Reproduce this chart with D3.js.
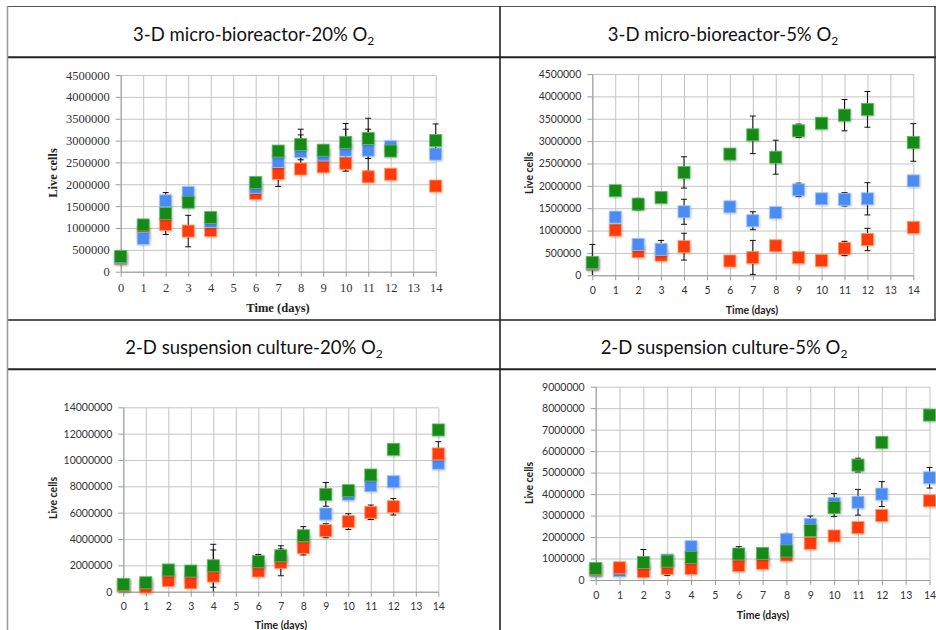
<!DOCTYPE html>
<html>
<head>
<meta charset="utf-8">
<script src="https://cdn.jsdelivr.net/npm/d3@7"></script>
<style>
  html, body { margin: 0; padding: 0; background: #fff; }
  svg { display: block; }
</style>
</head>
<body>
<svg id="chart" width="936" height="630"></svg>
<script>
// ---------------- DATA ----------------
const days = [0, 1, 2, 3, 4, 6, 7, 8, 9, 10, 11, 12, 14];
const xTicks = [0, 1, 2, 3, 4, 5, 6, 7, 8, 9, 10, 11, 12, 13, 14];
const yTicks3D = [0, 500000, 1000000, 1500000, 2000000, 2500000, 3000000, 3500000, 4000000, 4500000];
const yTicks2D20 = [0, 2000000, 4000000, 6000000, 8000000, 10000000, 12000000, 14000000];
const yTicks2D5 = [0, 1000000, 2000000, 3000000, 4000000, 5000000, 6000000, 7000000, 8000000, 9000000];

const titles = ["3-D micro-bioreactor-20% O", "3-D micro-bioreactor-5% O", "2-D suspension culture-20% O", "2-D suspension culture-5% O"];
const titleSub = "2";
const xAxisTitle = "Time (days)";
const yAxisTitle = "Live cells";

// 3-D micro-bioreactor 20% O2
const p1Green = [350000, 1070000, 1330000, 1590000, 1240000, 2040000, 2760000, 2910000, 2780000, 2960000, 3050000, 2760000, 3000000];
const p1Blue  = [320000, 760000, 1620000, 1810000, 1150000, 1930000, 2520000, 2750000, 2670000, 2780000, 2780000, 2860000, 2690000];
const p1Red   = [300000, 900000, 1080000, 930000, 940000, 1790000, 2250000, 2350000, 2400000, 2480000, 2170000, 2230000, 1960000];
const p1GreenErr = [0, 0, 480000, 0, 0, 0, 0, 350000, 0, 430000, 460000, 0, 380000];
const p1BlueErr  = [0, 0, 0, 0, 0, 0, 0, 380000, 0, 480000, 480000, 0, 0];
const p1RedErr   = [0, 0, 0, 360000, 0, 0, 300000, 0, 0, 0, 0, 0, 0];

// 3-D micro-bioreactor 5% O2
const p2Green = [290000, 1890000, 1590000, 1740000, 2300000, 2710000, 3140000, 2640000, 3230000, 3400000, 3580000, 3710000, 2970000];
const p2Blue  = [270000, 1300000, 690000, 580000, 1420000, 1530000, 1220000, 1400000, 1910000, 1710000, 1700000, 1710000, 2110000];
const p2Red   = [250000, 1010000, 530000, 450000, 640000, 320000, 400000, 660000, 400000, 330000, 600000, 800000, 1070000];
const p2GreenErr = [400000, 0, 130000, 0, 350000, 0, 420000, 380000, 150000, 0, 350000, 400000, 420000];
const p2BlueErr  = [0, 120000, 0, 200000, 280000, 0, 200000, 0, 150000, 0, 150000, 360000, 0];
const p2RedErr   = [0, 0, 0, 0, 300000, 0, 380000, 0, 0, 0, 160000, 250000, 0];

// 2-D suspension culture 20% O2
const p3Green = [560000, 680000, 1650000, 1570000, 1970000, 2280000, 2730000, 4250000, 7390000, 7670000, 8860000, 10810000, 12280000];
const p3Blue  = [500000, 500000, 1200000, 1050000, 1570000, 1900000, 2450000, 3800000, 5900000, 7400000, 8050000, 8350000, 9750000];
const p3Red   = [450000, 350000, 840000, 680000, 1190000, 1570000, 2230000, 3340000, 4630000, 5320000, 6030000, 6450000, 10460000];
const p3GreenErr = [0, 0, 0, 0, 1630000, 550000, 760000, 690000, 900000, 0, 0, 0, 0];
const p3BlueErr  = [0, 0, 0, 0, 1600000, 0, 0, 0, 0, 0, 0, 0, 0];
const p3RedErr   = [0, 0, 0, 0, 0, 0, 1020000, 550000, 530000, 600000, 550000, 630000, 930000];

// 2-D suspension culture 5% O2
const p4Green = [540000, null, 820000, 880000, 1050000, 1210000, 1240000, 1350000, 2300000, 3370000, 5350000, 6410000, 7680000];
const p4Blue  = [450000, 430000, 600000, 930000, 1550000, 1000000, 1000000, 1890000, 2590000, 3570000, 3620000, 4000000, 4760000];
const p4Red   = [500000, 570000, 390000, 540000, 540000, 670000, 780000, 1160000, 1710000, 2050000, 2440000, 3000000, 3690000];
const p4GreenErr = [0, 0, 600000, 0, 0, 340000, 0, 0, 0, 420000, 320000, 250000, 0];
const p4BlueErr  = [0, 0, 0, 0, 0, 0, 0, 280000, 390000, 460000, 600000, 580000, 480000];
const p4RedErr   = [0, 0, 0, 320000, 0, 0, 0, 0, 0, 0, 0, 0, 0];

// ---------------- STYLE / LAYOUT ----------------
const colors = {
  green: { fill: "#148a14", stroke: "#63b863" },
  blue:  { fill: "#4b8cf2", stroke: "#9cc2ff" },
  red:   { fill: "#ff3a10", stroke: "#ff9c5a" }
};

const serifFont = "'Liberation Serif', 'DejaVu Serif', serif";
const sansFont = "Lato, 'Open Sans', sans-serif";
const titleFont = "Lato, 'Open Sans', sans-serif";

const panels = [
  { title: titles[0], tx: 253.7, ty: 40.7, x0: 120.7, x1: 435.7, y0: 271.7, y1: 75, ymax: 4500000, yTicks: yTicks3D,
    font: serifFont, tickSize: 12.5, labSize: 12.5, xlab: [278, 312], ylab: [53, 173], xPad: 6,
    order: ["red", "blue", "green"],
    series: { green: [p1Green, p1GreenErr], blue: [p1Blue, p1BlueErr], red: [p1Red, p1RedErr] } },
  { title: titles[1], tx: 723, ty: 40.7, x0: 592.3, x1: 913.3, y0: 275.3, y1: 74, ymax: 4500000, yTicks: yTicks3D,
    font: sansFont, tickSize: 10.5, labSize: 10.5, xlab: [752, 314], ylab: [529, 173], xPad: 6,
    order: ["red", "blue", "green"],
    series: { green: [p2Green, p2GreenErr], blue: [p2Blue, p2BlueErr], red: [p2Red, p2RedErr] } },
  { title: titles[2], tx: 254, ty: 354.3, x0: 123.3, x1: 438.3, y0: 591.7, y1: 407.3, ymax: 14000000, yTicks: yTicks2D20,
    font: sansFont, tickSize: 10.5, labSize: 10.5, xlab: [281, 629], ylab: [53.3, 498], xPad: 6,
    order: ["blue", "red", "green"],
    series: { green: [p3Green, p3GreenErr], blue: [p3Blue, p3BlueErr], red: [p3Red, p3RedErr] } },
  { title: titles[3], tx: 724, ty: 354.3, x0: 595.7, x1: 929.5, y0: 580, y1: 386.7, ymax: 9000000, yTicks: yTicks2D5,
    font: sansFont, tickSize: 10.5, labSize: 10.5, xlab: [763, 619], ylab: [529.3, 483], xPad: 7,
    order: ["blue", "red", "green"],
    series: { green: [p4Green, p4GreenErr], blue: [p4Blue, p4BlueErr], red: [p4Red, p4RedErr] } }
];

const svg = d3.select("#chart");
const defs = svg.append("defs");
const f = defs.append("filter").attr("id", "shadow").attr("x", "-30%").attr("y", "-30%").attr("width", "160%").attr("height", "160%");
f.append("feDropShadow").attr("dx", 0.6).attr("dy", 0.8).attr("stdDeviation", 0.9).attr("flood-color", "#000").attr("flood-opacity", 0.25);

// ---------------- FRAME ----------------
const frame = svg.append("g").attr("class", "frame");
frame.append("line").attr("x1", 7).attr("x2", 936).attr("y1", 6.5).attr("y2", 6.5).attr("stroke", "#555").attr("stroke-width", 1.2);
frame.append("line").attr("x1", 7).attr("x2", 936).attr("y1", 57.3).attr("y2", 57.3).attr("stroke", "#222").attr("stroke-width", 2);
frame.append("line").attr("x1", 7).attr("x2", 936).attr("y1", 320).attr("y2", 320).attr("stroke", "#222").attr("stroke-width", 1.6);
frame.append("line").attr("x1", 7).attr("x2", 936).attr("y1", 369.3).attr("y2", 369.3).attr("stroke", "#222").attr("stroke-width", 2);
frame.append("line").attr("x1", 7.5).attr("x2", 7.5).attr("y1", 6).attr("y2", 630).attr("stroke", "#999").attr("stroke-width", 1.5);
frame.append("line").attr("x1", 500).attr("x2", 500).attr("y1", 6).attr("y2", 630).attr("stroke", "#222").attr("stroke-width", 1.6);
frame.append("line").attr("x1", 935).attr("x2", 935).attr("y1", 6).attr("y2", 320).attr("stroke", "#333").attr("stroke-width", 1.4);

// ---------------- PANELS ----------------
panels.forEach((p, i) => {
  const g = svg.append("g").attr("class", "panel panel-" + i);

  // title
  const t = g.append("text").attr("x", p.tx).attr("y", p.ty).attr("text-anchor", "middle")
    .attr("font-family", titleFont).attr("font-size", 18.5).attr("fill", "#111");
  t.append("tspan").text(p.title);
  t.append("tspan").attr("font-size", 12).attr("dy", 4).text(titleSub);

  const x = d3.scaleLinear().domain([0, 14]).range([p.x0, p.x1]);
  const y = d3.scaleLinear().domain([0, p.ymax]).range([p.y0, p.y1]);

  // grid
  const grid = g.append("g").attr("class", "grid");
  grid.append("g").attr("transform", `translate(0,${p.y0})`)
    .call(d3.axisBottom(x).tickValues(xTicks).tickSize(-(p.y0 - p.y1)).tickFormat(""))
    .call(s => s.select(".domain").remove())
    .call(s => s.selectAll("line").attr("stroke", "#c4c4c4").attr("stroke-width", 1));
  grid.append("g").attr("transform", `translate(${p.x0},0)`)
    .call(d3.axisLeft(y).tickValues(p.yTicks).tickSize(-(p.x1 - p.x0)).tickFormat(""))
    .call(s => s.select(".domain").remove())
    .call(s => s.selectAll("line").attr("stroke", "#c4c4c4").attr("stroke-width", 1));

  // axes
  const ax = g.append("g").attr("transform", `translate(0,${p.y0})`)
    .call(d3.axisBottom(x).tickValues(xTicks).tickSize(5).tickSizeOuter(0).tickPadding(p.xPad).tickFormat(d3.format("d")));
  const ay = g.append("g").attr("transform", `translate(${p.x0},0)`)
    .call(d3.axisLeft(y).tickValues(p.yTicks).tickSize(5).tickSizeOuter(0).tickPadding(6).tickFormat(d3.format("d")));
  [ax, ay].forEach(a => {
    a.select(".domain").attr("stroke", "#9a9a9a");
    a.selectAll(".tick line").attr("stroke", "#9a9a9a");
    a.selectAll("text").attr("font-family", p.font).attr("font-size", p.tickSize).attr("fill", "#333");
  });

  // axis titles
  g.append("text").attr("x", p.xlab[0]).attr("y", p.xlab[1]).attr("text-anchor", "middle")
    .attr("font-family", p.font).attr("font-weight", "bold").attr("font-size", p.labSize).attr("fill", "#222")
    .text(xAxisTitle);
  g.append("text").attr("transform", `translate(${p.ylab[0]},${p.ylab[1]}) rotate(-90)`).attr("text-anchor", "middle")
    .attr("dy", "0.35em")
    .attr("font-family", p.font).attr("font-weight", "bold").attr("font-size", p.labSize).attr("fill", "#222")
    .text(yAxisTitle);

  // clip for error bars
  const clipId = "clip" + i;
  defs.append("clipPath").attr("id", clipId).append("rect")
    .attr("x", p.x0 - 10).attr("y", p.y1 - 20).attr("width", p.x1 - p.x0 + 20).attr("height", p.y0 - p.y1 + 20);

  // error bars
  const eb = g.append("g").attr("clip-path", `url(#${clipId})`);
  p.order.forEach(k => {
    const [vals, errs] = p.series[k];
    const pts = days.map((d, j) => ({ d, v: vals[j], e: errs[j] })).filter(o => o.v != null && o.e > 0);
    const sel = eb.selectAll(null).data(pts).enter().append("g").attr("stroke", "#111").attr("stroke-width", 1);
    sel.append("line").attr("x1", o => x(o.d)).attr("x2", o => x(o.d))
      .attr("y1", o => y(o.v + o.e)).attr("y2", o => y(Math.max(0, o.v - o.e)));
    sel.append("line").attr("x1", o => x(o.d) - 3).attr("x2", o => x(o.d) + 3)
      .attr("y1", o => y(o.v + o.e)).attr("y2", o => y(o.v + o.e));
    sel.filter(o => o.v - o.e > 0).append("line").attr("x1", o => x(o.d) - 3).attr("x2", o => x(o.d) + 3)
      .attr("y1", o => y(o.v - o.e)).attr("y2", o => y(o.v - o.e));
  });

  // markers
  const ms = 12;
  p.order.forEach(k => {
    const [vals] = p.series[k];
    const pts = days.map((d, j) => ({ d, v: vals[j] })).filter(o => o.v != null);
    g.append("g").attr("class", "series-" + k).attr("filter", "url(#shadow)")
      .selectAll("rect").data(pts).enter().append("rect")
      .attr("x", o => x(o.d) - ms / 2).attr("y", o => y(o.v) - ms / 2)
      .attr("width", ms).attr("height", ms)
      .attr("fill", colors[k].fill).attr("stroke", colors[k].stroke).attr("stroke-width", 0.8);
  });
});
</script>
</body>
</html>
